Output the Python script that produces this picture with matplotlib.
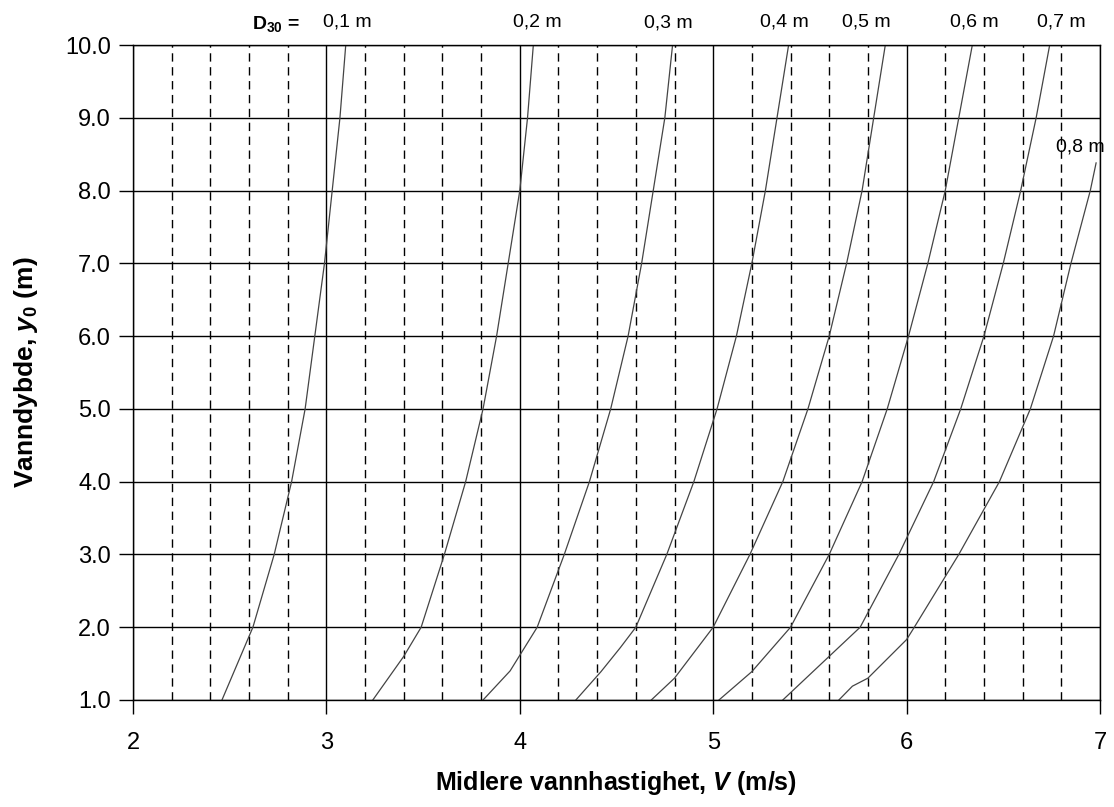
import matplotlib.pyplot as plt
import numpy as np

plt.rcParams["font.family"] = ["Liberation Sans", "DejaVu Sans"]
plt.rcParams["mathtext.fontset"] = "custom"
plt.rcParams["mathtext.rm"] = "Liberation Sans:bold"
plt.rcParams["mathtext.it"] = "Liberation Sans:bold:italic"
plt.rcParams["mathtext.bf"] = "Liberation Sans:bold"

# D30 curves: water depth y0 (m) vs. mean velocity V (m/s)
d30_labels = ["0,1 m", "0,2 m", "0,3 m", "0,4 m", "0,5 m", "0,6 m", "0,7 m", "0,8 m"]

y_01 = [1, 1.5, 2, 3, 4, 5, 6, 7, 8, 9, 10]
v_01 = [2.46, 2.54, 2.62, 2.73, 2.82, 2.89, 2.94, 2.99, 3.03, 3.07, 3.10]

y_02 = [1, 1.6, 2, 3, 4, 5, 6, 7, 8, 9, 10]
v_02 = [3.24, 3.40, 3.49, 3.61, 3.72, 3.81, 3.88, 3.94, 4.00, 4.04, 4.07]

y_03 = [1, 1.4, 2, 3, 4, 5, 6, 7, 8, 9, 10]
v_03 = [3.81, 3.95, 4.09, 4.23, 4.36, 4.47, 4.56, 4.63, 4.69, 4.75, 4.79]

y_04 = [1, 1.39, 1.72, 2, 3, 4, 5, 6, 7, 8, 9, 10]
v_04 = [4.29, 4.42, 4.52, 4.60, 4.76, 4.90, 5.02, 5.12, 5.20, 5.27, 5.33, 5.39]

y_05 = [1, 1.3, 2, 3, 4, 5, 6, 7, 8, 9, 10]
v_05 = [4.68, 4.80, 5.00, 5.19, 5.36, 5.49, 5.60, 5.69, 5.77, 5.83, 5.89]

y_06 = [1, 1.39, 2, 3, 4, 5, 6, 7, 8, 9, 10]
v_06 = [5.03, 5.20, 5.40, 5.60, 5.77, 5.90, 6.01, 6.11, 6.20, 6.27, 6.34]

y_07 = [1, 1.6, 2, 3, 4, 5, 6, 7, 8, 9, 10]
v_07 = [5.36, 5.60, 5.76, 5.96, 6.14, 6.28, 6.40, 6.50, 6.59, 6.67, 6.74]

y_08 = [1, 1.19, 1.30, 1.83, 2, 3, 4, 5, 6, 7, 8, 8.38]
v_08 = [5.65, 5.72, 5.80, 6.00, 6.04, 6.27, 6.48, 6.64, 6.76, 6.85, 6.95, 6.98]

curves = [(v_01, y_01), (v_02, y_02), (v_03, y_03), (v_04, y_04),
          (v_05, y_05), (v_06, y_06), (v_07, y_07), (v_08, y_08)]

# label positions (V, y) for the curve names
label_x = [3.11, 4.09, 4.77, 5.37, 5.79, 6.35, 6.80, 6.90]
label_y = [10.31, 10.32, 10.3, 10.32, 10.32, 10.31, 10.31, 8.6]

fig = plt.figure(figsize=(11.14, 8.07), dpi=100)
ax = fig.add_axes([0.1194, 0.1326, 0.868, 0.8116])

ax.set_xlim(2, 7)
ax.set_ylim(1, 10)

# grid: solid at whole values, dashed every 0.2 m/s
for yv in np.arange(1, 11):
    ax.axhline(yv, color="black", linewidth=1.0, zorder=1)
for xv in np.arange(2, 7.01, 0.2):
    if abs(xv - round(xv)) < 1e-6:
        ax.axvline(xv, color="black", linewidth=1.0, zorder=1)
    else:
        ax.axvline(xv, color="black", linewidth=1.0, linestyle=(0, (6, 4)), zorder=1)

for v, y in curves:
    ax.plot(v, y, color="#444444", linewidth=0.9, zorder=2)

for lab, lx, ly in zip(d30_labels, label_x, label_y):
    ax.text(lx, ly, lab, ha="center", va="center", fontsize=14, clip_on=False)

ax.text(2.74, 10.29, r"D$_{\mathbf{30}}$ =", ha="center", va="center",
        fontsize=14, fontweight="bold", clip_on=False)

ax.set_xticks([2, 3, 4, 5, 6, 7])
ax.set_yticks(np.arange(1, 11))
ax.set_yticklabels([f"{v:.1f}" for v in np.arange(1, 11)])
ax.tick_params(direction="out", length=10, width=1, labelsize=17)
ax.tick_params(axis="x", pad=13)
ax.tick_params(axis="y", pad=6)

for s in ax.spines.values():
    s.set_linewidth(1.0)

ax.set_xlabel(r"Midlere vannhastighet, $V$ (m/s)", fontsize=18,
              fontweight="bold", labelpad=11)
ax.set_ylabel(r"Vanndybde, $y_0$ (m)", fontsize=19, fontweight="bold", labelpad=18)

plt.savefig("out.png", dpi=100)
